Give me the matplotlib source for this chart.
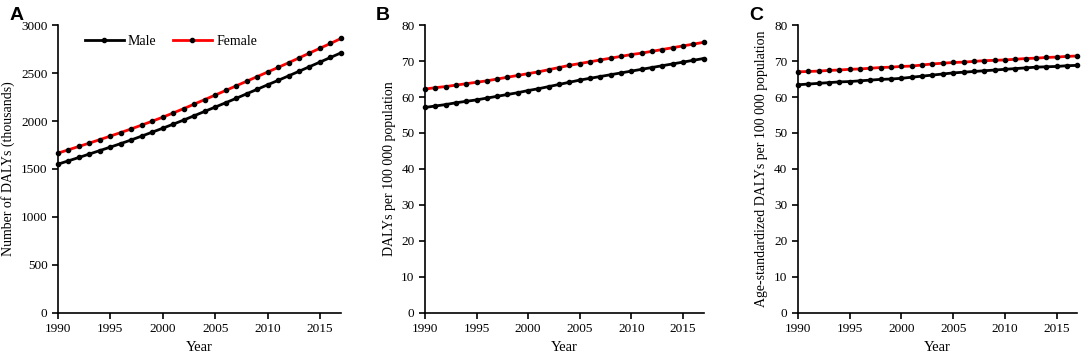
import numpy as np
import matplotlib.pyplot as plt

years = np.arange(1990, 2018)

# Panel A: number of DALYs (thousands)
a_male = [1550, 1585, 1620, 1656, 1692, 1728, 1765, 1803, 1843, 1884, 1925, 1967, 2010, 2055,
          2100, 2145, 2190, 2236, 2283, 2330, 2377, 2423, 2470, 2518, 2566, 2614, 2662, 2710]
a_female = [1665, 1700, 1735, 1770, 1806, 1843, 1880, 1918, 1958, 1998, 2040, 2084, 2129, 2176,
            2223, 2270, 2318, 2366, 2414, 2462, 2510, 2558, 2607, 2657, 2708, 2758, 2808, 2860]

# Panel B: DALYs per 100 000
b_male = [57.1, 57.5, 57.9, 58.4, 58.8, 59.2, 59.7, 60.2, 60.7, 61.2, 61.8, 62.3, 62.9, 63.5,
          64.1, 64.7, 65.2, 65.7, 66.2, 66.7, 67.2, 67.7, 68.2, 68.7, 69.2, 69.7, 70.2, 70.7]
b_female = [62.2, 62.6, 62.9, 63.3, 63.7, 64.1, 64.5, 65.0, 65.5, 66.0, 66.5, 67.0, 67.6, 68.2,
            68.8, 69.3, 69.8, 70.3, 70.8, 71.3, 71.8, 72.2, 72.7, 73.2, 73.7, 74.2, 74.7, 75.2]

# Panel C: age-standardized DALYs per 100 000
c_male = [63.4, 63.6, 63.8, 64.0, 64.2, 64.3, 64.5, 64.7, 64.9, 65.0, 65.2, 65.5, 65.8, 66.1,
          66.4, 66.7, 66.9, 67.1, 67.3, 67.5, 67.7, 67.9, 68.1, 68.3, 68.4, 68.5, 68.7, 68.8]
c_female = [67.0, 67.1, 67.2, 67.4, 67.5, 67.7, 67.8, 68.0, 68.2, 68.3, 68.5, 68.6, 68.9, 69.2,
            69.4, 69.6, 69.7, 69.9, 70.1, 70.2, 70.3, 70.5, 70.7, 70.8, 71.0, 71.1, 71.3, 71.4]

plt.rcParams['font.family'] = ['Liberation Serif', 'DejaVu Serif']

fig = plt.figure(figsize=(10.84, 3.58), dpi=100)

panels = [
    ('A', [0.0535, 0.126, 0.261, 0.804], a_male, a_female, 3000, 500,
     'Number of DALYs (thousands)'),
    ('B', [0.392, 0.126, 0.257, 0.804], b_male, b_female, 80, 10,
     'DALYs per 100 000 population'),
    ('C', [0.736, 0.126, 0.258, 0.804], c_male, c_female, 80, 10,
     'Age-standardized DALYs per 100 000 population'),
]

for letter, pos, male, female, ymax, ystep, ylabel in panels:
    ax = fig.add_axes(pos)
    ax.plot(years, male, color='black', lw=2, marker='o', ms=3,
            mfc='black', mec='black', label='Male', clip_on=False)
    ax.plot(years, female, color='red', lw=2, marker='o', ms=3,
            mfc='black', mec='black', label='Female', clip_on=False)
    ax.set_xlim(1990, 2017)
    ax.set_ylim(0, ymax)
    ax.set_xticks(np.arange(1990, 2016, 5))
    ax.set_yticks(np.arange(0, ymax + 1, ystep))
    ax.spines['top'].set_visible(False)
    ax.spines['right'].set_visible(False)
    ax.spines['left'].set_linewidth(1.2)
    ax.spines['bottom'].set_linewidth(1.2)
    ax.tick_params(direction='out', length=4, width=1.2, labelsize=9.5)
    ax.set_xlabel('Year', fontsize=10.5)
    ax.set_ylabel(ylabel, fontsize=10)
    fig.text(pos[0] - 0.045, 0.958, letter, fontsize=14, fontweight='bold',
             family='Liberation Sans', va='center')
    if letter == 'A':
        ax.legend(loc='upper left', bbox_to_anchor=(0.05, 1.01), ncol=2, frameon=False,
                  fontsize=10, handlelength=2.8, columnspacing=1.2, handletextpad=0.3)

fig.savefig('out.png', dpi=100)
